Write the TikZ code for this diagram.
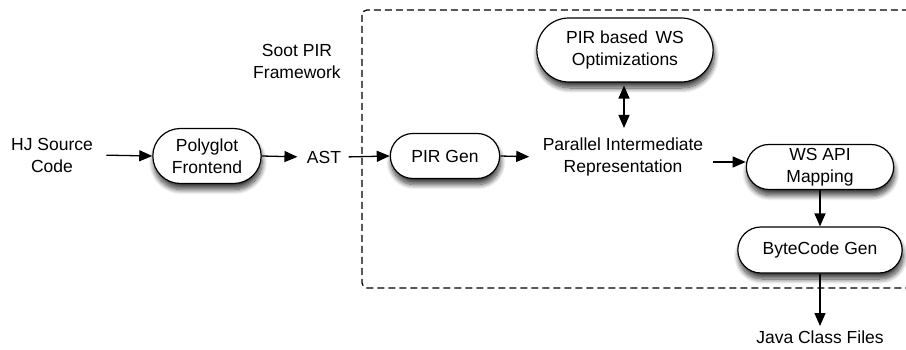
\documentclass[tikz,border=0pt]{standalone}
\usepackage{fontspec}
\setmainfont{Liberation Sans}
\usetikzlibrary{positioning, arrows.meta, shapes.misc, shadows.blur}

\tikzset{
    stage/.style={rounded rectangle, draw=black, line width=1.2pt, fill=white, align=center,
        blur shadow={shadow xshift=1pt, shadow yshift=-6pt, shadow blur steps=10, shadow blur radius=5pt, shadow opacity=75}},
    plain/.style={align=center},
    flow/.style={line width=1.3pt, -{Triangle[length=13pt, width=11pt]}},
}

\begin{document}
\begin{tikzpicture}[x=1pt, y=-1pt, font=\fontsize{17.5}{22}\selectfont]

\useasboundingbox (0,0) rectangle (906,350);

% framework border, runs off the right side
\begin{scope}
    \clip (0,0) rectangle (906,350);
    \draw[line width=1.2pt, dash pattern=on 7pt off 4pt, rounded corners=5pt] (362,10) rectangle (930,288);
\end{scope}

\node[plain] (soot) at (297,61) {Soot PIR\\Framework};

% front end
\node[plain] (src) at (52,155) {HJ Source\\Code};
\node[stage, minimum width=115pt, minimum height=55pt] (poly) at (207,156) {Polyglot\\Frontend};
\node[plain] (ast) at (324,157) {AST};

% inside the framework
\node[stage, minimum width=116pt, minimum height=45pt] (pirgen) at (445,156) {PIR Gen};
\node[plain] (pir) at (623,157) {Parallel Intermediate\\Representation};
\node[stage, minimum width=183pt, minimum height=64pt] (opt) at (625,50) {PIR based\, WS\\Optimizations};
\node[stage, minimum width=154pt, minimum height=45pt] (wsapi) at (820,167) {WS API\\Mapping};
\node[stage, minimum width=171pt, minimum height=46pt] (bcgen) at (820,250) {ByteCode Gen};
\node[plain] (java) at (820,337) {Java Class Files};

\coordinate (pirout) at (713,162);

% arrows
\draw[flow, shorten <=10pt] (src.east) -- (poly.west);
\draw[flow, shorten >=6pt] (poly.east) -- (ast.west);
\draw[flow, shorten <=4pt] (ast.east) -- (pirgen.west);
\draw[flow, shorten >=10pt] (pirgen.east) -- (pir.west);
\draw[line width=1.3pt, {Triangle[length=13pt, width=11pt]}-{Triangle[length=13pt, width=11pt]}, shorten <=3pt, shorten >=2pt] (opt.south -| 624,0) -- (624,130);
\draw[flow] (pirout) -- (wsapi.west |- pirout);
\draw[flow] (wsapi.south) -- (bcgen.north);
\draw[flow, shorten >=1pt] (bcgen.south) -- (java.north);

\end{tikzpicture}
\end{document}
